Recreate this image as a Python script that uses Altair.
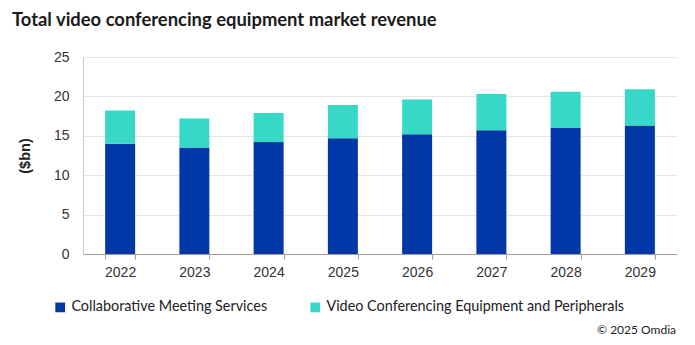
import altair as alt
import pandas as pd

years = ["2022", "2023", "2024", "2025", "2026", "2027", "2028", "2029"]
cms = [14.0, 13.5, 14.2, 14.7, 15.2, 15.7, 16.0, 16.3]
vcep = [4.2, 3.7, 3.7, 4.2, 4.4, 4.6, 4.6, 4.6]
series = ["Collaborative Meeting Services", "Video Conferencing Equipment and Peripherals"]
colors = ["#0038A8", "#38D8C8"]

rows = []
for y, a, b in zip(years, cms, vcep):
    rows.append({"year": y, "series": series[0], "value": a, "ord": 0})
    rows.append({"year": y, "series": series[1], "value": b, "ord": 1})
df = pd.DataFrame(rows)

W, H = 594, 197

bars = alt.Chart(df).mark_bar().encode(
    x=alt.X("year:N", sort=years, title=None,
            scale=alt.Scale(paddingInner=0.596, paddingOuter=0.298),
            axis=alt.Axis(labelAngle=0, tickBand="extent", domainColor="#A89C90",
                          tickColor="#A89C90", tickSize=5, labelFont="Liberation Sans",
                          labelFontSize=14, labelColor="#333333", labelPadding=6,
                          grid=False)),
    y=alt.Y("value:Q", stack="zero", title="($bn)",
            scale=alt.Scale(domain=[0, 25]),
            axis=alt.Axis(values=[0, 5, 10, 15, 20, 25], grid=True, gridColor="#E6E6E6",
                          domainColor="#C8C8C8", ticks=False, labelFont="Liberation Sans",
                          labelFontSize=14, labelColor="#333333", labelPadding=14,
                          titleFont="Liberation Sans", titleFontSize=14.5, titleFontWeight="bold",
                          titleColor="#222222", titlePadding=21)),
    color=alt.Color("series:N", scale=alt.Scale(domain=series, range=colors),
                    legend=alt.Legend(title=None, orient="none", direction="horizontal",
                                      legendX=-30, legendY=243, symbolType="square",
                                      symbolSize=95, symbolStrokeWidth=0,
                                      labelFont="Lato", labelFontSize=14.4,
                                      labelColor="#222222", columnPadding=40,
                                      labelLimit=400)),
    order=alt.Order("ord:Q", sort="ascending"),
)

credit = alt.Chart(pd.DataFrame({"t": ["© 2025 Omdia"]})).mark_text(
    align="right", baseline="middle", font="Lato", fontSize=12, color="#222222"
).encode(text="t:N", x=alt.value(W - 1), y=alt.value(273))

chart = alt.layer(bars, credit).properties(
    width=W, height=H,
    autosize=alt.AutoSizeParams(type="none"),
    padding={"left": 83, "top": 57, "right": 18, "bottom": 91},
    title=alt.TitleParams("Total video conferencing equipment market revenue",
                          anchor="start", frame="group", font="Lato", fontSize=18.4,
                          fontWeight="bold", color="#1A1A1A", dx=-71, offset=21),
).configure_view(stroke=None)

chart.save("out.html", embed_options={"renderer": "svg", "actions": False})
